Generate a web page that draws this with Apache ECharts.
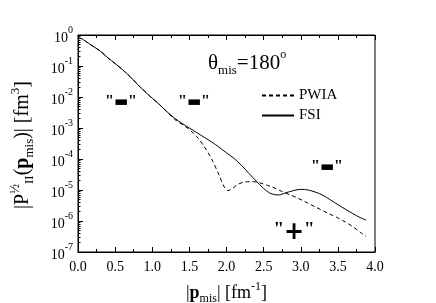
<!DOCTYPE html>
<html><head><meta charset="utf-8">
<script src="https://cdn.jsdelivr.net/npm/echarts@6/dist/echarts.min.js"></script>
<style>html,body{margin:0;padding:0;background:#fff}#c{width:436px;height:303px}</style>
</head><body><div id="c"></div>
<script>
// momentum |p_mis| [fm^-1] shared low-p part (both curves coincide)
const pShared = [0.0, 0.05, 0.1, 0.2, 0.3, 0.4, 0.5, 0.6, 0.7, 0.8, 0.9, 1.0, 1.1, 1.2];
const vShared = [0.794, 0.76, 0.631, 0.437, 0.302, 0.186, 0.120, 0.0759, 0.0457, 0.0257, 0.0151, 0.00912, 0.00562, 0.00331];

// FSI (solid)
const pFSI = [1.3, 1.4, 1.5, 1.6, 1.7, 1.8, 1.9, 2.0, 2.1, 2.2, 2.3, 2.4, 2.5, 2.6, 2.7, 2.8, 2.9, 3.0, 3.1, 3.2, 3.3, 3.4, 3.5, 3.6, 3.7, 3.8, 3.88];
const vFSI = [2.09e-3, 1.41e-3, 1.0e-3, 7.08e-4, 5.01e-4, 3.55e-4, 2.40e-4, 1.58e-4, 1.05e-4, 6.31e-5, 3.47e-5, 1.95e-5, 1.12e-5, 7.59e-6, 6.92e-6, 8.13e-6, 9.55e-6, 1.05e-5, 1.0e-5, 8.51e-6, 6.76e-6, 4.79e-6, 3.39e-6, 2.40e-6, 1.74e-6, 1.29e-6, 1.07e-6];

// PWIA (dashed)
const pPWIA = [1.3, 1.4, 1.5, 1.6, 1.7, 1.8, 1.9, 1.97, 2.02, 2.08, 2.15, 2.25, 2.35, 2.45, 2.55, 2.65, 2.75, 2.85, 2.95, 3.05, 3.2, 3.35, 3.5, 3.6, 3.7, 3.8, 3.88];
const vPWIA = [1.91e-3, 1.32e-3, 8.91e-4, 5.25e-4, 2.51e-4, 1.0e-4, 3.02e-5, 1.26e-5, 9.55e-6, 1.12e-5, 1.51e-5, 1.82e-5, 1.86e-5, 1.70e-5, 1.41e-5, 1.15e-5, 8.91e-6, 7.08e-6, 5.62e-6, 4.27e-6, 2.82e-6, 1.86e-6, 1.26e-6, 9.33e-7, 6.61e-7, 4.37e-7, 3.16e-7];

const seriesNames = ['PWIA', 'FSI'];

const F = 'Liberation Serif';
const zip = (a, b) => a.map((x, i) => [x, b[i]]);
const fsiData = zip(pShared, vShared).concat(zip(pFSI, vFSI));
const pwiaData = zip(pShared, vShared).concat(zip(pPWIA, vPWIA));

const minorY = [];
for (let d = -7; d < 0; d++) for (let k = 2; k <= 9; k++) minorY.push(k * Math.pow(10, d));

const chart = echarts.init(document.getElementById('c'), null, {renderer: 'canvas'});
const mkRich = (fs, ss, lh) => ({
  n: {fontFamily: F, fontSize: fs, color: '#000', lineHeight: lh, verticalAlign: 'middle'},
  bp: {fontFamily: F, fontSize: fs, fontWeight: 'bold', color: '#000', lineHeight: lh, verticalAlign: 'middle'},
  sub: {fontFamily: F, fontSize: ss, color: '#000', lineHeight: lh, verticalAlign: 'bottom'},
  sup: {fontFamily: F, fontSize: ss, color: '#000', lineHeight: lh, verticalAlign: 'top'}
});
chart.setOption({
  animation: false,
  backgroundColor: '#fff',
  grid: {left: 78, right: 61, top: 35, bottom: 51, containLabel: false, outerBoundsMode: 'none',
    show: true, borderColor: '#000', borderWidth: 1, backgroundColor: 'transparent'},
  legend: {
    data: seriesNames, orient: 'vertical', left: 256, top: 83, itemWidth: 32, itemHeight: 10, itemGap: 5,
    itemStyle: {opacity: 0},
    textStyle: {fontFamily: F, fontSize: 15, color: '#000'}
  },
  xAxis: [{
    type: 'value', min: 0, max: 4, interval: 0.5, position: 'bottom',
    name: '{n||}{bp|p}{sub|mis}{n|| [fm}{sup|-1}{n|]}',
    nameLocation: 'middle', nameGap: 29,
    nameTextStyle: {fontFamily: F, fontSize: 18, color: '#000', lineHeight: 24, rich: mkRich(18, 12, 24)},
    axisLine: {show: true, lineStyle: {color: '#000', width: 1}},
    axisTick: {show: true, inside: true, length: 5, lineStyle: {color: '#000'}},
    minorTick: {show: true, splitNumber: 2, length: 3, lineStyle: {color: '#000'}},
    axisLabel: {fontFamily: F, fontSize: 14, color: '#000', margin: 8, formatter: v => v.toFixed(1)},
    splitLine: {show: false}
  }, {
    type: 'value', min: 0, max: 4, interval: 0.5, position: 'top',
    axisLine: {show: true, lineStyle: {color: '#000'}},
    axisTick: {show: true, inside: true, length: 5, lineStyle: {color: '#000'}},
    minorTick: {show: true, splitNumber: 2, length: 3, lineStyle: {color: '#000'}},
    axisLabel: {show: false}, splitLine: {show: false}
  }],
  yAxis: [{
    type: 'log', logBase: 10, min: 1e-7, max: 1, position: 'left',
    axisLine: {show: true, lineStyle: {color: '#000'}},
    axisTick: {show: true, inside: true, length: 5, lineStyle: {color: '#000'}},
    axisLabel: {
      color: '#000', margin: 5,
      formatter: v => '{b|10}{s|' + Math.round(Math.log10(v)) + '}',
      rich: {
        b: {fontFamily: F, fontSize: 14, color: '#000', lineHeight: 20, verticalAlign: 'bottom'},
        s: {fontFamily: F, fontSize: 10, color: '#000', lineHeight: 20, verticalAlign: 'top'}
      }
    },
    splitLine: {show: false}
  }, {
    type: 'log', logBase: 10, min: 1e-7, max: 1, position: 'left', offset: 0,
    axisLine: {show: false},
    axisTick: {show: true, inside: true, length: 2.5, customValues: minorY, lineStyle: {color: '#000'}},
    axisLabel: {show: false}, splitLine: {show: false}
  }],
  series: [{
    name: 'PWIA', type: 'line', data: pwiaData, smooth: 0.3, symbol: 'none', showSymbol: false,
    lineStyle: {color: '#000', width: 1, type: [4, 3]}, itemStyle: {color: '#000'}
  }, {
    name: 'FSI', type: 'line', data: fsiData, smooth: 0.3, symbol: 'none', showSymbol: false,
    lineStyle: {color: '#000', width: 1, type: 'solid'}, itemStyle: {color: '#000'}
  }],
  graphic: [
    {type: 'text', rotation: Math.PI / 2, x: 23, y: 145,
      style: {text: '{n||P}{sup|½}{sub|II}{n|(}{bp|p}{sub|mis}{n|)| [fm}{sup|3}{n|]}', rich: mkRich(20, 13, 27),
        align: 'center', verticalAlign: 'middle'}},
    {type: 'text', x: 208, y: 63,
      style: {text: '{t|θ}{s|mis}{t|=180}{o|o}', align: 'left', verticalAlign: 'middle',
        rich: {
          t: {fontFamily: F, fontSize: 21, color: '#000', lineHeight: 28, verticalAlign: 'middle'},
          s: {fontFamily: F, fontSize: 13, color: '#000', lineHeight: 28, verticalAlign: 'bottom'},
          o: {fontFamily: F, fontSize: 12, color: '#000', lineHeight: 28, verticalAlign: 'top'}
        }}},
    ...[[121, 102], [194, 102], [327, 167]].map(([x, y]) => ({
      type: 'text', x: x, y: y,
      style: {text: '{q|"}{b|▬}{q|"}', align: 'center', verticalAlign: 'middle',
        rich: {
          q: {fontFamily: F, fontSize: 16, fontWeight: 'bold', color: '#000', lineHeight: 16, verticalAlign: 'top'},
          b: {fontFamily: 'DejaVu Sans', fontSize: 15, color: '#000', lineHeight: 16, verticalAlign: 'middle'}
        }}
    })),
    {type: 'text', x: 294, y: 233,
      style: {text: '{q|"}{p|+}{q|"}', align: 'center', verticalAlign: 'middle',
        rich: {
          q: {fontFamily: F, fontSize: 19, fontWeight: 'bold', color: '#000', lineHeight: 24, verticalAlign: 'top'},
          p: {fontFamily: 'DejaVu Sans', fontSize: 24, fontWeight: 'bold', color: '#000', lineHeight: 24, verticalAlign: 'middle'}
        }}}
  ]
});
</script>
</body></html>
